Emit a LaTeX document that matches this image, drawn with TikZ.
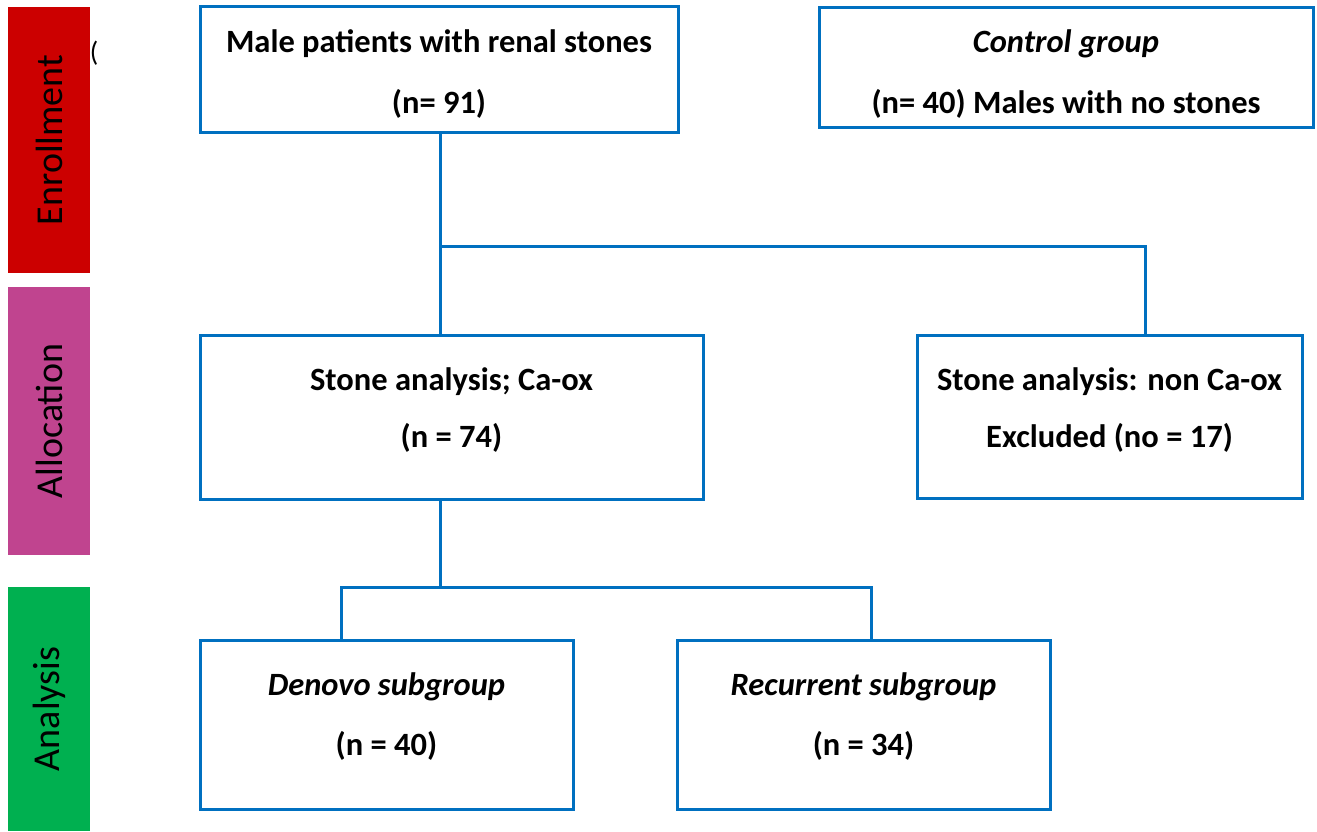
\documentclass[tikz,border=0pt]{standalone}
\usepackage{fontspec}
\setmainfont{Carlito}
\usepackage{tikz}
\usetikzlibrary{positioning,calc}
\definecolor{boxblue}{HTML}{0070C0}
\definecolor{enrolred}{HTML}{CC0000}
\definecolor{allocpink}{HTML}{C0448F}
\definecolor{anagreen}{HTML}{00B050}
% struts to place the two text lines inside a box
\newcommand{\firstgap}[1]{\rule{0pt}{#1}}
\newcommand{\lastgap}[1]{\rule[-#1]{0pt}{#1}}

\begin{document}
\begin{tikzpicture}[x=1pt,y=-1pt,
			box/.style={draw=boxblue,line width=3pt,fill=white,inner sep=0pt,align=center,font=\fontsize{32.5}{61}\selectfont\bfseries},
			phase/.style={rotate=90,inner sep=0pt,minimum height=82pt,font=\fontsize{38}{40}\selectfont},
			link/.style={draw=boxblue,line width=3pt}
			]
			\useasboundingbox (0,0) rectangle (1317,831);
			% phase bars
			\node[phase,fill=enrolred,minimum width=266pt] (enrol) at (49,140) {Enrollment};
			\node[phase,fill=allocpink,minimum width=268pt] (alloc) at (49,421) {Allocation};
			\node[phase,fill=anagreen,minimum width=244pt] (anal) at (49,709) {Analysis};
			\node[font=\fontsize{28}{30}\selectfont,inner sep=0pt] (paren) at (94,53) {(};
			% boxes
			\node[box,minimum width=478pt,minimum height=126pt] (male) at (439,69) {\firstgap{46pt}Male patients with renal stones\\(n= 91)\lastgap{19pt}};
			\node[box,minimum width=494pt,minimum height=120pt] (control) at (1066,67) {\firstgap{45pt}\textit{Control group}\\(n= 40) Males with no stones\lastgap{14pt}};
			\node[box,minimum width=503pt,minimum height=164pt] (caox) at (451.5,417) {\firstgap{55pt}Stone analysis; Ca-ox\\[-4pt](n = 74)\lastgap{52pt}};
			\node[box,minimum width=385pt,minimum height=163pt] (noncaox) at (1109.5,416.5) {\firstgap{55pt}Stone analysis: non Ca-ox\\[-4pt]Excluded (no = 17)\lastgap{51pt}};
			\node[box,minimum width=373pt,minimum height=169pt] (denovo) at (386.5,724.5) {\firstgap{55pt}\textit{Denovo subgroup}\\[-1pt](n = 40)\lastgap{54pt}};
			\node[box,minimum width=373pt,minimum height=169pt] (recur) at (863.5,724.5) {\firstgap{55pt}\textit{Recurrent subgroup}\\[-1pt](n = 34)\lastgap{54pt}};
			% junctions
			\coordinate (j1) at (440,246);
			\coordinate (j2) at (1145,246);
			\coordinate (k1) at (440,587);
			\coordinate (k2) at (341,587);
			\coordinate (k3) at (871,587);
			\draw[link] (j1 |- male.south) -- (j1) -- (j2) -- (j2 |- noncaox.north);
			\draw[link] (j1) -- (j1 |- caox.north);
			\draw[link] (k1 |- caox.south) -- (k1);
			\draw[link] (k2 |- denovo.north) -- (k2) -- (k3) -- (k3 |- recur.north);
		\end{tikzpicture}
\end{document}
